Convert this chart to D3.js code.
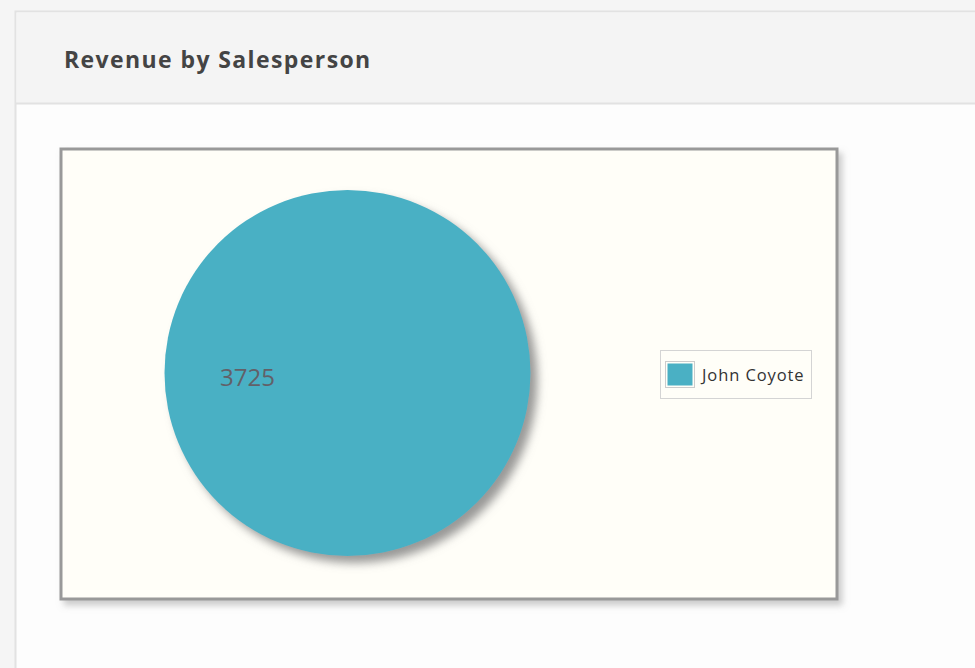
<!DOCTYPE html>
<html>
<head>
<meta charset="utf-8">
<script src="https://cdn.jsdelivr.net/npm/d3@7"></script>
<style>
  html, body { margin: 0; padding: 0; background: #f5f5f5; }
  body { width: 975px; height: 668px; overflow: hidden; }
  svg { display: block; }
</style>
</head>
<body>
<svg id="chart" width="975" height="668"></svg>
<script>
// Chart data
const salespeople = ['John Coyote'];
const revenue = [3725];
const colorList = ['#4ab0c4'];

const svg = d3.select('#chart');
const defs = svg.append('defs');

// Shadows
const pieShadow = defs.append('filter').attr('id', 'pieShadow')
  .attr('x', '-20%').attr('y', '-20%').attr('width', '140%').attr('height', '140%');
pieShadow.append('feDropShadow')
  .attr('dx', 7).attr('dy', 7).attr('stdDeviation', 5)
  .attr('flood-color', '#777').attr('flood-opacity', 0.75);

const boxShadow = defs.append('filter').attr('id', 'boxShadow')
  .attr('x', '-5%').attr('y', '-5%').attr('width', '110%').attr('height', '115%');
boxShadow.append('feDropShadow')
  .attr('dx', 4).attr('dy', 5).attr('stdDeviation', 3)
  .attr('flood-color', '#aaa').attr('flood-opacity', 0.6);

// Page panel
svg.append('rect')
  .attr('x', 15.5).attr('y', 11.5).attr('width', 980).attr('height', 680)
  .attr('fill', '#fdfdfd').attr('stroke', '#e2e2e2').attr('stroke-width', 2);
svg.append('rect')
  .attr('x', 16.5).attr('y', 12.5).attr('width', 980).attr('height', 91)
  .attr('fill', '#f4f4f4');
svg.append('line')
  .attr('x1', 16).attr('x2', 975).attr('y1', 103.5).attr('y2', 103.5)
  .attr('stroke', '#e2e2e2').attr('stroke-width', 2);

svg.append('text')
  .attr('x', 64).attr('y', 68)
  .attr('font-family', '"Open Sans", sans-serif')
  .attr('font-weight', 700).attr('font-size', 23)
  .attr('letter-spacing', 1.4)
  .attr('fill', '#444')
  .text('Revenue by Salesperson');

// Chart box
svg.append('rect')
  .attr('x', 61).attr('y', 149).attr('width', 776).attr('height', 450)
  .attr('fill', '#fffef8').attr('stroke', '#999').attr('stroke-width', 3)
  .attr('filter', 'url(#boxShadow)');

// Pie
const cx = 347.5, cy = 373, radius = 183;
const pie = d3.pie().sort(null).startAngle(Math.PI / 2).endAngle(Math.PI / 2 + 2 * Math.PI);
const arc = d3.arc().innerRadius(0).outerRadius(radius);
const labelArc = d3.arc().innerRadius(100).outerRadius(100);
const color = d3.scaleOrdinal().domain(salespeople).range(colorList);

const data = salespeople.map((name, i) => ({ name, value: revenue[i] }));
const arcs = pie.value(d => d.value)(data);

const g = svg.append('g').attr('transform', `translate(${cx},${cy})`);
g.append('g').attr('filter', 'url(#pieShadow)')
  .selectAll('path').data(arcs).join('path')
  .attr('d', arc)
  .attr('fill', d => color(d.data.name));

g.selectAll('text.label').data(arcs).join('text')
  .attr('class', 'label')
  .attr('transform', d => `translate(${labelArc.centroid(d)})`)
  .attr('text-anchor', 'middle')
  .attr('dy', 13)
  .attr('font-family', '"Open Sans", sans-serif')
  .attr('font-size', 24)
  .attr('fill', '#626068')
  .text(d => d.data.value);

// Legend
const legend = svg.append('g').attr('transform', 'translate(660,350)');
legend.append('rect')
  .attr('x', 0.5).attr('y', 0.5).attr('width', 151).attr('height', 48)
  .attr('fill', '#fffef8').attr('stroke', '#d4d4d4');
const item = legend.selectAll('g.item').data(salespeople).join('g')
  .attr('class', 'item')
  .attr('transform', (d, i) => `translate(5,${11 + i * 26})`);
item.append('rect')
  .attr('x', 0.5).attr('y', 0.5).attr('width', 29).attr('height', 26)
  .attr('fill', 'none').attr('stroke', '#ccc');
item.append('rect')
  .attr('x', 2.5).attr('y', 2.5).attr('width', 25).attr('height', 22)
  .attr('fill', d => color(d));
item.append('text')
  .attr('x', 37).attr('y', 19.5)
  .attr('font-family', '"Open Sans", sans-serif')
  .attr('font-size', 16.5)
  .attr('letter-spacing', 0.9)
  .attr('fill', '#333')
  .text(d => d);
</script>
</body>
</html>
